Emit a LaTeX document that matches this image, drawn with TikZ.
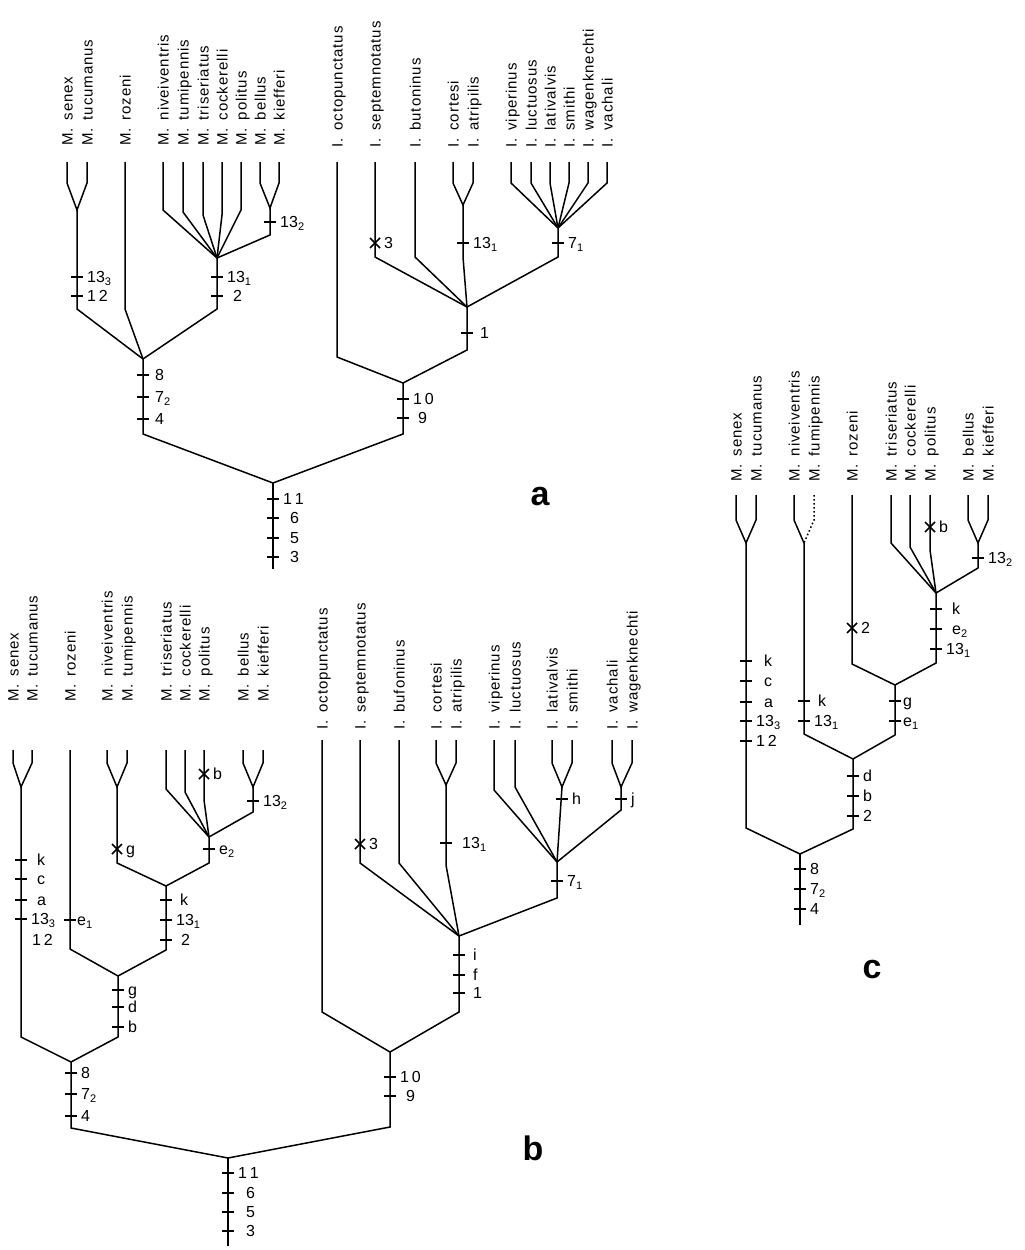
\documentclass[tikz,border=0pt]{standalone}
\usepackage{fontspec}
\setmainfont{Liberation Sans}
\newfontfamily\labfont{Liberation Sans}[LetterSpace=6]
\newcommand\lowsub[1]{\raisebox{-0.35ex}{\fontsize{11}{11}\selectfont #1}}
\newcommand\gp{\hspace{0.2em} }
\tikzset{
  br/.style={line width=1.5pt, line join=miter},
  dotbr/.style={line width=1.5pt, dash pattern=on 1.6pt off 2.4pt},
  sl/.style={rotate=90, anchor=base west, inner sep=0pt, font=\labfont\fontsize{15}{17}\selectfont},
  tl/.style={anchor=base west, inner sep=0pt, font=\fontsize{16}{18}\selectfont},
  big/.style={inner sep=0pt, font=\bfseries\fontsize{34}{36}\selectfont}
}
\newcommand\tk[4][10]{%
  \draw[br] (#2-6,#3) -- (#2+6,#3);
  \node[tl] at (#2+#1,#3+5.5) {#4};}
\newcommand\xm[3]{%
  \draw[br] (#1-5,#2-5) -- (#1+5,#2+5) (#1-5,#2+5) -- (#1+5,#2-5);
  \node[tl] at (#1+9,#2+5.5) {#3};}
\newcommand\tx[3]{\node[sl] at (#1+5.5,#2) {#3};}
\begin{document}
\begin{tikzpicture}[x=1pt,y=-1pt]
\fill[white] (0,0) rectangle (1025,1250);
\useasboundingbox (0,0) rectangle (1025,1250);

% ================= tree a =================
\foreach \x/\t in {67/senex,87/tucumanus,125/rozeni,163/niveiventris,183/tumipennis,203/triseriatus,222/cockerelli,241/politus,260/bellus,279/kiefferi}
  {\tx{\x}{146}{M.\gp\t}}
\foreach \x/\t in {337/octopunctatus,375/septemnotatus,415/butoninus,453/cortesi,473/atripilis,511/viperinus,531/luctuosus,550/lativalvis,569/smithi,588/wagenknechti,607/vachali}
  {\tx{\x}{148}{I.\gp\t}}
\coordinate (aR) at (273,483);
\coordinate (aM) at (143,359);
\coordinate (aI) at (403,383);
\coordinate (aC) at (217,258);
\coordinate (aS) at (77,210);
\coordinate (aB) at (270,208);
\coordinate (aN) at (467,307);
\coordinate (aT) at (463,205);
\coordinate (aP) at (558,228);
\draw[br] (67,162) -- (67,183) -- (aS) -- (87,183) -- (87,162);
\draw[br] (aS) -- (77,309) -- (aM);
\draw[br] (125,162) -- (125,309) -- (aM);
\draw[br] (163,162) -- (163,210) -- (aC);
\draw[br] (183,162) -- (183,212) -- (aC);
\draw[br] (203,162) -- (203,215) -- (aC);
\draw[br] (222,162) -- (222,215) -- (aC);
\draw[br] (241,162) -- (241,210) -- (aC);
\draw[br] (260,162) -- (260,183) -- (aB) -- (279,183) -- (279,162);
\draw[br] (aB) -- (270,235) -- (aC);
\draw[br] (aC) -- (217,309) -- (aM);
\draw[br] (aM) -- (143,434) -- (aR);
\draw[br] (aI) -- (403,434) -- (aR);
\draw[br] (aR) -- (273,569);
\draw[br] (337,162) -- (337,357) -- (aI);
\draw[br] (aN) -- (467,350) -- (aI);
\draw[br] (375,162) -- (375,257) -- (aN);
\draw[br] (415,162) -- (415,257) -- (aN);
\draw[br] (453,162) -- (453,183) -- (aT) -- (473,183) -- (473,162);
\draw[br] (aT) -- (463,257) -- (aN);
\foreach \x in {511,531,550,569,588,607} {\draw[br] (\x,162) -- (\x,183) -- (aP);}
\draw[br] (aP) -- (558,257) -- (aN);
\tk{77}{277}{13\lowsub{3}}
\tk{77}{296}{1\,2}
\tk{217}{277}{13\lowsub{1}}
\tk[16]{217}{296}{2}
\tk{270}{222}{13\lowsub{2}}
\xm{375}{243}{3}
\tk{463}{243}{13\lowsub{1}}
\tk{558}{243}{7\lowsub{1}}
\tk[13]{467}{333}{1}
\tk[12]{143}{375}{8}
\tk[12]{143}{397}{7\lowsub{2}}
\tk[12]{143}{419}{4}
\tk{403}{399}{1\,0}
\tk[15]{403}{418}{9}
\tk{273}{499}{1\,1}
\tk[17]{273}{518}{6}
\tk[17]{273}{538}{5}
\tk[17]{273}{557}{3}
\node[big] (la) at (540,497) {a};

% ================= tree b =================
\foreach \x/\t in {13/senex,32/tucumanus,70/rozeni,107/niveiventris,127/tumipennis,166/triseriatus,185/cockerelli,204/politus,243/bellus,263/kiefferi}
  {\tx{\x}{702}{M.\gp\t}}
\foreach \x/\t in {322/octopunctatus,360/septemnotatus,399/bufoninus,436/cortesi,456/atripilis,494/viperinus,515/luctuosus,552/lativalvis,572/smithi,612/vachali,632/wagenknechti}
  {\tx{\x}{730}{I.\gp\t}}
\coordinate (bR) at (228,1158);
\coordinate (bM) at (71,1062);
\coordinate (bG) at (118,976);
\coordinate (bK) at (166,886);
\coordinate (bE) at (209,837);
\coordinate (bS) at (21,787);
\coordinate (bN) at (117,787);
\coordinate (bB) at (253,787);
\coordinate (bI) at (390,1052);
\coordinate (bF) at (459,936);
\coordinate (bP) at (557,862);
\coordinate (bT) at (446,785);
\coordinate (bL) at (562,787);
\coordinate (bV) at (621,787);
\draw[br] (13,750) -- (13,763) -- (bS) -- (32,763) -- (32,750);
\draw[br] (bS) -- (21,1037) -- (bM);
\draw[br] (70,750) -- (70,949) -- (bG);
\draw[br] (107,750) -- (107,763) -- (bN) -- (127,763) -- (127,750);
\draw[br] (bN) -- (117,863) -- (bK);
\draw[br] (166,750) -- (166,789) -- (bE);
\draw[br] (185,750) -- (185,792) -- (bE);
\draw[br] (204,750) -- (204,800) -- (bE);
\draw[br] (243,750) -- (243,763) -- (bB) -- (263,763) -- (263,750);
\draw[br] (bB) -- (253,812) -- (bE);
\draw[br] (bE) -- (209,863) -- (bK);
\draw[br] (bK) -- (166,950) -- (bG);
\draw[br] (bG) -- (118,1037) -- (bM);
\draw[br] (bM) -- (71,1128) -- (bR);
\draw[br] (bR) -- (228,1246);
\draw[br] (322,740) -- (322,1012) -- (bI);
\draw[br] (360,740) -- (360,863) -- (bF);
\draw[br] (399,740) -- (399,863) -- (bF);
\draw[br] (436,740) -- (436,763) -- (bT) -- (456,763) -- (456,740);
\draw[br] (bT) -- (446,865) -- (bF);
\draw[br] (494,740) -- (494,790) -- (bP);
\draw[br] (515,740) -- (515,787) -- (bP);
\draw[br] (552,740) -- (552,763) -- (bL) -- (572,763) -- (572,740);
\draw[br] (bL) -- (bP);
\draw[br] (612,740) -- (612,763) -- (bV) -- (632,763) -- (632,740);
\draw[br] (bV) -- (621,810) -- (bP);
\draw[br] (bP) -- (557,898) -- (bF);
\draw[br] (bF) -- (459,1012) -- (bI);
\draw[br] (bI) -- (390,1127) -- (bR);
\tk[16]{21}{860}{k}
\tk[16]{21}{879}{c}
\tk[16]{21}{900}{a}
\tk{21}{919}{13\lowsub{3}}
\node[tl] (b12) at (32,945.5) {1\,2};
\tk[7]{70}{920}{e\lowsub{1}}
\xm{117}{849}{g}
\xm{204}{774}{b}
\tk{253}{801}{13\lowsub{2}}
\tk{209}{849}{e\lowsub{2}}
\tk[14]{166}{900}{k}
\tk{166}{920}{13\lowsub{1}}
\tk[15]{166}{940}{2}
\tk{118}{990}{g}
\tk{118}{1007}{d}
\tk{118}{1027}{b}
\tk{71}{1073}{8}
\tk{71}{1094}{7\lowsub{2}}
\tk{71}{1116}{4}
\tk{228}{1173}{1\,1}
\tk[18]{228}{1193}{6}
\tk[18]{228}{1212}{5}
\tk[18]{228}{1231}{3}
\xm{360}{844}{3}
\tk[16]{446}{843}{13\lowsub{1}}
\tk{562}{799}{h}
\tk{621}{799}{j}
\tk{557}{881}{7\lowsub{1}}
\tk[14]{459}{955}{i}
\tk[14]{459}{975}{f}
\tk[14]{459}{993}{1}
\tk{390}{1077}{1\,0}
\tk[16]{390}{1096}{9}
\node[big] (lb) at (533,1148) {b};

% ================= tree c =================
\foreach \x/\t in {736/senex,756/tucumanus,794/niveiventris,814/fumipennis,852/rozeni,891/triseriatus,910/cockerelli,930/politus,968/bellus,988/kiefferi}
  {\tx{\x}{482}{M.\gp\t}}
\coordinate (cR) at (800,854);
\coordinate (cA) at (853,759);
\coordinate (cB) at (895,685);
\coordinate (cC) at (936,593);
\coordinate (cS) at (746,543);
\coordinate (cN) at (804,543);
\coordinate (cL) at (978,543);
\draw[br] (736,495) -- (736,520) -- (cS) -- (756,520) -- (756,495);
\draw[br] (cS) -- (746,828) -- (cR);
\draw[br] (794,495) -- (794,520) -- (cN);
\draw[dotbr] (814,495) -- (814,520) -- (cN);
\draw[br] (cN) -- (804,734) -- (cA);
\draw[br] (852,495) -- (852,664) -- (cB);
\draw[br] (891,495) -- (891,543) -- (cC);
\draw[br] (910,495) -- (910,547) -- (cC);
\draw[br] (930,495) -- (930,550) -- (cC);
\draw[br] (968,495) -- (968,520) -- (cL) -- (988,520) -- (988,495);
\draw[br] (cL) -- (978,568) -- (cC);
\draw[br] (cC) -- (936,663) -- (cB);
\draw[br] (cB) -- (895,735) -- (cA);
\draw[br] (cA) -- (853,829) -- (cR);
\draw[br] (cR) -- (800,925);
\tk[18]{746}{661}{k}
\tk[18]{746}{681}{c}
\tk[18]{746}{702}{a}
\tk{746}{721}{13\lowsub{3}}
\tk{746}{741}{1\,2}
\tk[14]{804}{701}{k}
\tk{804}{721}{13\lowsub{1}}
\xm{852}{628}{2}
\xm{930}{527}{b}
\tk{978}{558}{13\lowsub{2}}
\tk[16]{936}{609}{k}
\tk[16]{936}{629}{e\lowsub{2}}
\tk{936}{649}{13\lowsub{1}}
\tk[8]{895}{701}{g}
\tk[8]{895}{721}{e\lowsub{1}}
\tk{853}{776}{d}
\tk{853}{796}{b}
\tk{853}{816}{2}
\tk{800}{869}{8}
\tk{800}{889}{7\lowsub{2}}
\tk{800}{909}{4}
\node[big] (lc) at (872,970) {c};
\end{tikzpicture}
\end{document}
